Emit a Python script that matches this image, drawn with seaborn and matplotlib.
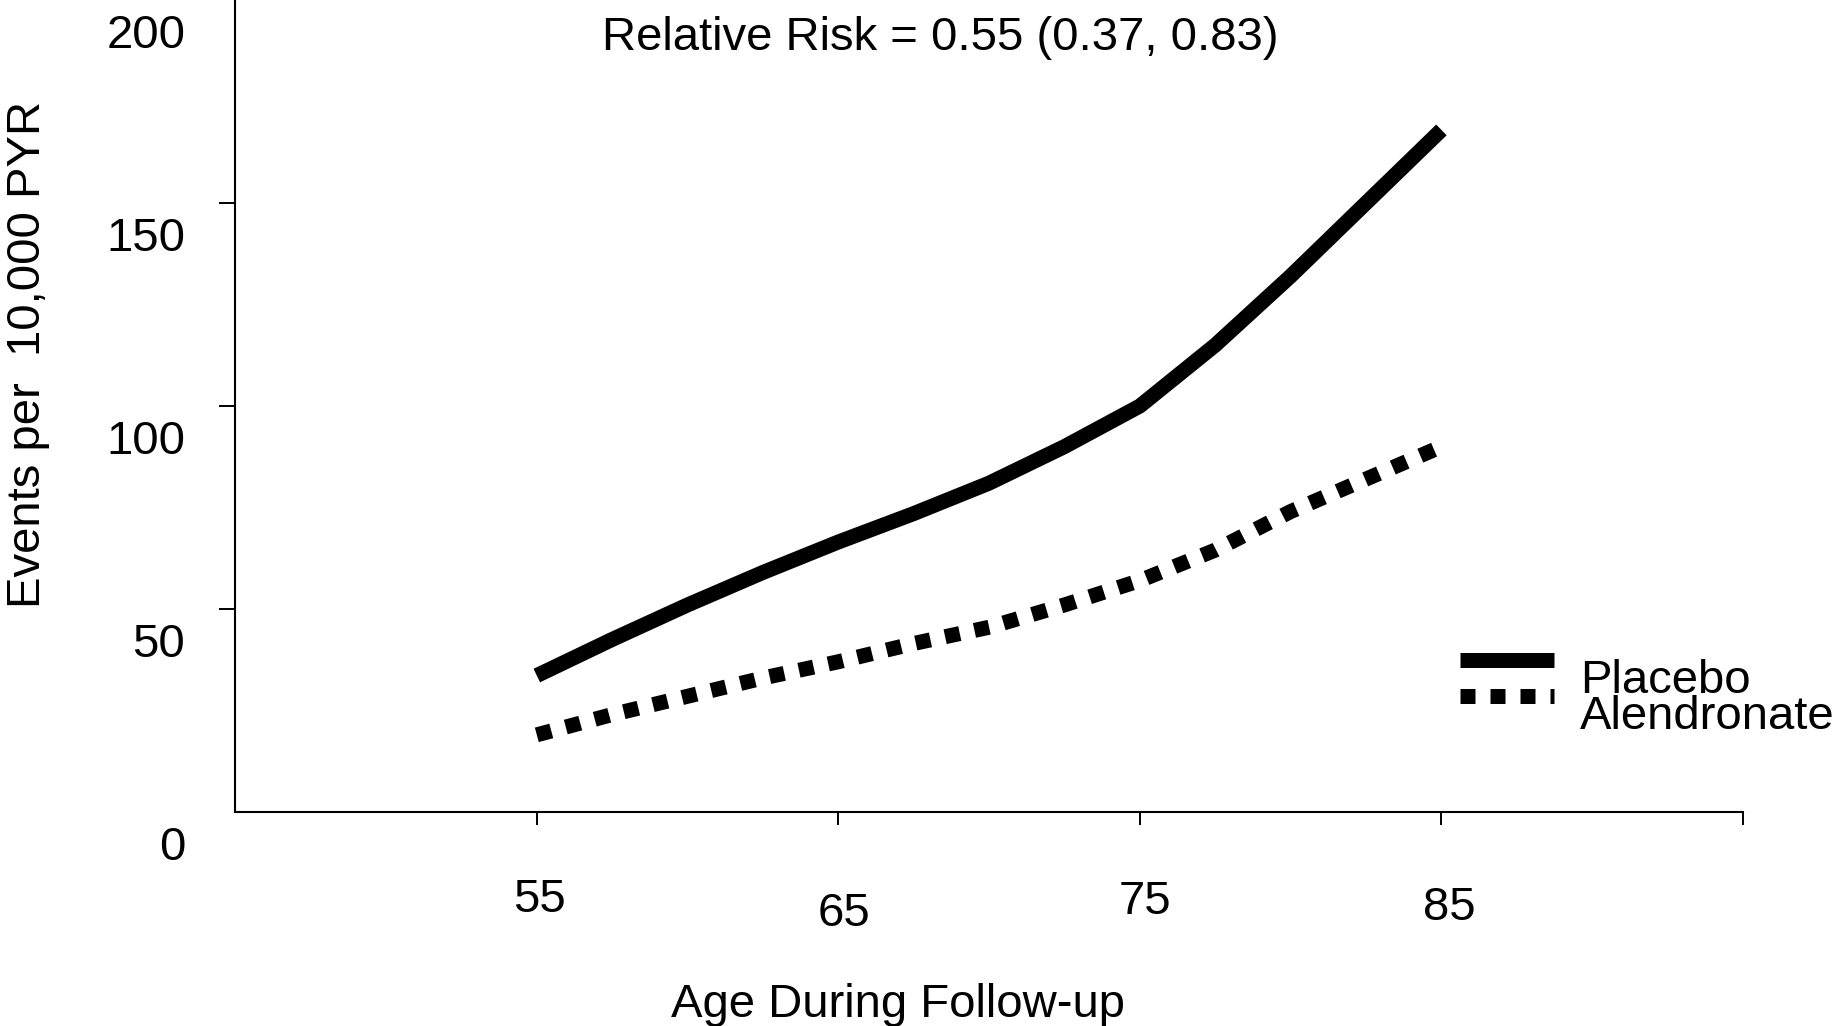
"""
Fracture incidence by age during follow-up: placebo vs alendronate
"""

# imports
import pandas as pd
import matplotlib
matplotlib.use("Agg")
import matplotlib.pyplot as plt
import matplotlib.transforms as mtransforms
import seaborn as sns

# data
AGES = [55, 57.5, 60, 62.5, 65, 67.5, 70, 72.5, 75, 77.5, 80, 82.5, 85]
PLACEBO = [33.6, 42.5, 51, 59, 66.5, 73.5, 81, 90, 100, 115, 132, 150, 168]
ALENDRONATE = [19, 24, 28.5, 33, 37, 41.5, 45.5, 51, 57, 64.5, 74, 82, 90]
GROUPS = ["Placebo", "Alendronate"]
X_TICKS = [55, 65, 75, 85, 95]
X_TICKLABELS = ["55", "65", "75", "85", ""]
Y_TICKS = [0, 50, 100, 150, 200]
Y_TICKLABELS = ["0", "50", "100", "150", "200"]
ANNOTATION = "Relative Risk = 0.55 (0.37, 0.83)"

# settings
FONTSIZE = 34
DPI = 100
X_LABEL_SHIFT = [(3, 0), (6, 14), (5, 2), (8, 8), (0, 0)]  # staggered labels (px)


def shift_label(fig, label, dx, dy):
    # move a tick label by (dx, dy) pixels, dy positive = down
    offset = mtransforms.ScaledTranslation(dx / DPI, -dy / DPI, fig.dpi_scale_trans)
    label.set_transform(label.get_transform() + offset)


def main():
    df = pd.DataFrame({
        "age": AGES + AGES,
        "rate": PLACEBO + ALENDRONATE,
        "group": [GROUPS[0]] * len(AGES) + [GROUPS[1]] * len(AGES),
    })

    sns.set_style("ticks")
    plt.rcParams["font.family"] = ["Liberation Sans", "DejaVu Sans"]
    plt.rcParams["font.size"] = FONTSIZE
    for key in ["text.color", "axes.labelcolor", "xtick.color", "ytick.color",
                "axes.edgecolor"]:
        plt.rcParams[key] = "black"

    fig = plt.figure(figsize=(18.38, 10.26), dpi=DPI)
    ax = fig.add_axes([0.128, 0.2086, 0.8203, 0.7914])

    sns.lineplot(data=df, x="age", y="rate", hue="group", style="group",
                 hue_order=GROUPS, style_order=GROUPS,
                 palette=["black", "black"],
                 dashes={"Placebo": "", "Alendronate": (1, 1)},
                 linewidth=10.8, solid_capstyle="butt", dash_capstyle="butt",
                 legend=False, ax=ax)

    # axes
    ax.set_xlim(45, 95)
    ax.set_ylim(0, 200)
    ax.set_xticks(X_TICKS)
    ax.set_xticklabels(X_TICKLABELS, fontsize=FONTSIZE)
    ax.set_yticks(Y_TICKS)
    ax.set_yticklabels(Y_TICKLABELS, fontsize=FONTSIZE)
    ax.tick_params(axis="x", length=9.4, width=1.4, pad=38, color="black")
    ax.tick_params(axis="y", length=11.5, width=1.4, pad=24.5, color="black")
    sns.despine(ax=ax)
    for side in ["left", "bottom"]:
        ax.spines[side].set_linewidth(1.5)
        ax.spines[side].set_color("black")

    yticks = ax.yaxis.get_major_ticks()
    for tick in yticks:
        shift_label(fig, tick.label1, 0, 31)
    yticks[0].tick1line.set_visible(False)
    yticks[-1].tick1line.set_visible(False)
    for tick, (dx, dy) in zip(ax.xaxis.get_major_ticks(), X_LABEL_SHIFT):
        shift_label(fig, tick.label1, dx, dy)

    # labels
    ax.set_xlabel("Age During Follow-up", fontsize=FONTSIZE, va="baseline")
    ax.xaxis.set_label_coords(0.4397, -0.2525)
    ax.set_ylabel("Events per  10,000 PYR", fontsize=FONTSIZE)
    ax.yaxis.set_label_coords(-0.123, 0.563)
    ax.text(0.4675, 0.9384, ANNOTATION, transform=ax.transAxes,
            ha="center", va="baseline", fontsize=FONTSIZE)

    # legend
    ax.legend(handles=ax.get_lines(), labels=GROUPS, loc="upper left",
              bbox_to_anchor=(0.8123, 0.2278), frameon=False,
              fontsize=FONTSIZE, borderpad=0, borderaxespad=0,
              handlelength=1.99, handleheight=3.03, handletextpad=0.55,
              labelspacing=-1.447)

    fig.savefig("out.png", dpi=DPI)


if __name__ == "__main__":
    main()
